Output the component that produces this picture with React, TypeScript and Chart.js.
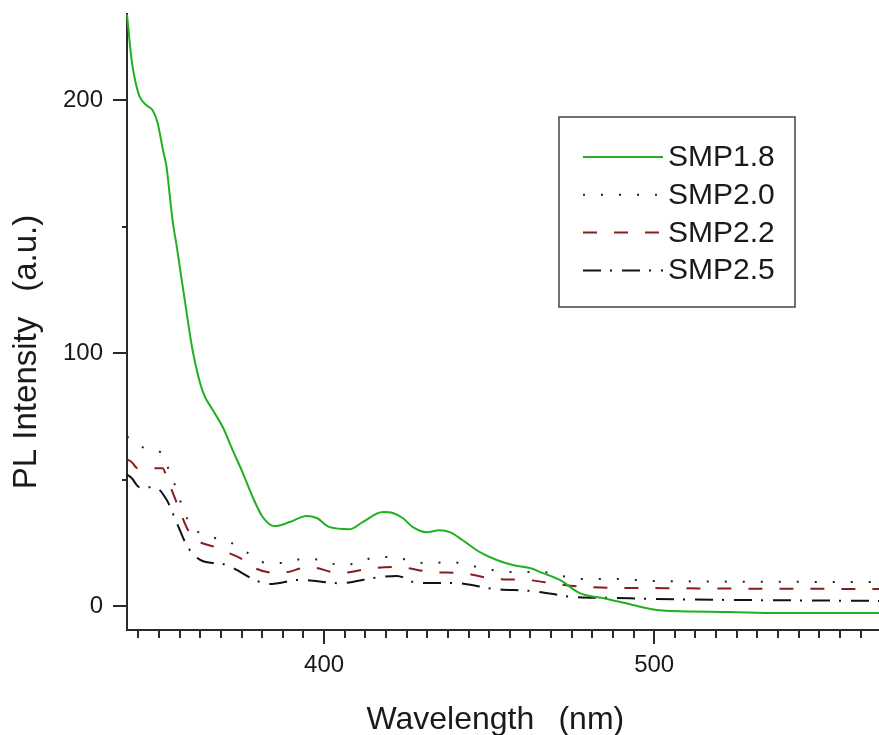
import React, { useEffect, useRef } from "react";
import { Chart, registerables } from "chart.js";

Chart.register(...registerables);

// ---- data ----
const smp18Wavelength = [340.3, 341.7, 342.6, 344.1, 346.3, 348.1, 349.6, 351.1, 352.3, 353.2, 354.1, 355.4, 356.3, 357.8, 360.2, 363.2, 366.3, 369.3, 372.3, 375.4, 378.4, 381.4, 385.0, 389.6, 394.7, 397.8, 401.7, 407.8, 411.7, 417.8, 420.8, 423.8, 426.9, 431.1, 435.0, 438.1, 442.0, 447.2, 452.3, 457.2, 462.3, 466.3, 471.4, 477.5, 485.7, 493.5, 500.8, 505.7, 522.9, 537.5, 568.1];
const smp18Intensity = [234, 216, 209, 201.6, 198, 196, 191, 181, 173.5, 163, 152.6, 142, 134, 121, 101, 85, 77.5, 70.8, 61.7, 52.6, 43, 35.2, 31.6, 33.2, 35.6, 34.8, 31.2, 30.4, 33.2, 37.2, 36.8, 34.8, 31.2, 29.2, 30, 29.2, 26, 21.3, 18.2, 16.2, 15, 13, 10.3, 5.1, 2.8, 0.4, -1.6, -2, -2.4, -2.8, -2.8];

const smp20Wavelength = [340.3, 345.7, 350.8, 353.2, 355.4, 357.2, 359.9, 366.0, 371.4, 376.9, 382.6, 388.1, 393.5, 399.3, 404.7, 410.2, 415.9, 421.4, 426.9, 432.6, 438.7, 443.5, 449.6, 455.4, 466.3, 472.0, 477.5, 488.7, 499.6, 568.1];
const smp20Intensity = [67, 62.5, 60.5, 53, 45.8, 38.7, 31.6, 27.3, 25.3, 21, 17, 17, 18.6, 18.2, 16.2, 17, 19.4, 19.4, 17.4, 17, 17.4, 16.2, 14.6, 13.4, 13.4, 11.9, 10.7, 10.7, 9.9, 9.5];

const smp22Wavelength = [340.3, 341.7, 343.5, 351.1, 352.3, 355.4, 359.3, 367.5, 376.6, 378.4, 386.6, 395.7, 404.7, 414.7, 422.0, 432.9, 442.0, 451.7, 461.4, 470.5, 479.9, 498.1, 568.1];
const smp22Intensity = [58, 57, 54.5, 54.5, 51, 40.7, 28.9, 23, 17.4, 15.4, 13, 15.4, 13, 15, 15.4, 13.4, 13, 10.7, 10.3, 8.7, 7.5, 7.1, 6.7];

const smp25Wavelength = [340.3, 341.7, 344.1, 348.7, 352.3, 355.4, 358.7, 363.2, 369.3, 380.5, 383.5, 392.6, 404.7, 414.7, 422.0, 428.4, 439.6, 451.7, 463.2, 475.4, 487.5, 498.7, 568.1];
const smp25Intensity = [52, 50.6, 47, 47, 42, 32.8, 23.3, 17.8, 16.6, 9.5, 8.7, 10.3, 9, 11, 11.9, 9.1, 9.1, 6.7, 5.9, 3.6, 3.2, 2.8, 2];

const seriesLabels = ["SMP1.8", "SMP2.0", "SMP2.2", "SMP2.5"];
const xTickValues = [400, 500];
const xMinorStep = 6.25;
const yTickValues = [0, 100, 200];
const yMinorValues = [50, 150];

const X_MIN = 340.3;
const X_MAX = 568.1;
const Y_MIN = -9.5;
const Y_MAX = 234.6;

const FONT = "'Liberation Sans', Arial, Helvetica, sans-serif";
const AXIS_COLOR = "#2a2a2a";
const TEXT_COLOR = "#1a1a1a";

const pts = (xs: number[], ys: number[]) => xs.map((x, i) => ({ x, y: ys[i] }));

const framePlugin = {
  id: "frame",
  beforeDatasetsDraw(chart: any) {
    const { ctx, chartArea: a, scales } = chart;
    const x = scales.x;
    const y = scales.y;
    ctx.save();
    ctx.strokeStyle = AXIS_COLOR;
    ctx.lineWidth = 2;
    ctx.beginPath();
    ctx.moveTo(a.left, a.top);
    ctx.lineTo(a.left, a.bottom);
    ctx.lineTo(a.right, a.bottom);
    ctx.stroke();
    ctx.beginPath();
    yTickValues.forEach((v) => {
      const py = Math.round(y.getPixelForValue(v));
      ctx.moveTo(a.left - 14, py);
      ctx.lineTo(a.left, py);
    });
    yMinorValues.forEach((v) => {
      const py = Math.round(y.getPixelForValue(v));
      ctx.moveTo(a.left - 5, py);
      ctx.lineTo(a.left, py);
    });
    for (let v = Math.ceil(x.min / xMinorStep) * xMinorStep; v <= x.max; v += xMinorStep) {
      const major = xTickValues.some((t) => Math.abs(t - v) < 1e-6);
      const px = Math.round(x.getPixelForValue(v));
      ctx.moveTo(px, a.bottom);
      ctx.lineTo(px, a.bottom + (major ? 14 : 8));
    }
    ctx.stroke();
    ctx.restore();
  },
};

const yTitlePlugin = {
  id: "yTitle",
  afterDraw(chart: any) {
    const { ctx } = chart;
    ctx.save();
    ctx.translate(27, 352);
    ctx.rotate(-Math.PI / 2);
    ctx.font = `33px ${FONT}`;
    ctx.fillStyle = TEXT_COLOR;
    ctx.textAlign = "center";
    ctx.textBaseline = "middle";
    ctx.fillText("PL Intensity  \u2009(a.u.)", 0, 0);
    ctx.restore();
  },
};

const legendPlugin = {
  id: "boxLegend",
  afterDraw(chart: any) {
    const { ctx } = chart;
    const left = 559, top = 117, w = 236, h = 190;
    ctx.save();
    ctx.fillStyle = "#ffffff";
    ctx.fillRect(left, top, w, h);
    ctx.strokeStyle = "#444";
    ctx.lineWidth = 1.5;
    ctx.strokeRect(left, top, w, h);
    ctx.font = `30px ${FONT}`;
    ctx.textBaseline = "alphabetic";
    ctx.textAlign = "left";
    chart.data.datasets.forEach((ds: any, i: number) => {
      const base = 166 + i * 37.8;
      const ly = base - 9;
      ctx.strokeStyle = ds.borderColor;
      ctx.lineWidth = 2;
      ctx.setLineDash(ds.borderDash || []);
      ctx.beginPath();
      ctx.moveTo(583, ly);
      ctx.lineTo(663, ly);
      ctx.stroke();
      ctx.setLineDash([]);
      ctx.fillStyle = TEXT_COLOR;
      ctx.fillText(ds.label, 668, base);
    });
    ctx.restore();
  },
};

export default function App() {
  const ref = useRef<HTMLCanvasElement>(null);
  useEffect(() => {
    const canvas = ref.current;
    if (!canvas) return;
    const common = {
      pointRadius: 0,
      borderWidth: 2,
      cubicInterpolationMode: "monotone",
      fill: false,
      clip: { left: 3, top: 3, right: 0, bottom: 3 },
    };
    const chart = new Chart(canvas, {
      type: "line",
      data: {
        datasets: [
          { ...common, label: seriesLabels[0], data: pts(smp18Wavelength, smp18Intensity), borderColor: "#22b022", borderDash: [] },
          { ...common, label: seriesLabels[1], data: pts(smp20Wavelength, smp20Intensity), borderColor: "#222222", borderDash: [2, 16] },
          { ...common, label: seriesLabels[2], data: pts(smp22Wavelength, smp22Intensity), borderColor: "#8b1c1c", borderDash: [14, 17] },
          { ...common, label: seriesLabels[3], data: pts(smp25Wavelength, smp25Intensity), borderColor: "#111111", borderDash: [18, 9, 2, 10] },
        ] as any,
      },
      options: {
        animation: false,
        responsive: false,
        devicePixelRatio: 1,
        layout: { padding: { top: 13, left: 0, right: 0, bottom: 0 } },
        plugins: { legend: { display: false }, tooltip: { enabled: false } },
        scales: {
          x: {
            type: "linear",
            min: X_MIN,
            max: X_MAX,
            grid: { display: false, drawTicks: false, tickLength: 0 },
            border: { display: false },
            afterBuildTicks: (s: any) => {
              s.ticks = xTickValues.map((v) => ({ value: v }));
            },
            afterFit: (s: any) => {
              s.height = 105;
              s.paddingLeft = 0;
              s.paddingRight = 0;
            },
            ticks: {
              padding: 21,
              maxRotation: 0,
              autoSkip: false,
              color: TEXT_COLOR,
              font: { family: FONT, size: 24 },
              callback: (v: any) => String(v),
            },
            title: {
              display: true,
              text: "Wavelength  \u2009(nm) \u2009",
              color: TEXT_COLOR,
              font: { family: FONT, size: 32, lineHeight: 0.9 },
              padding: { top: 0, bottom: 0 },
            },
          },
          y: {
            type: "linear",
            min: Y_MIN,
            max: Y_MAX,
            grid: { display: false, drawTicks: false, tickLength: 0 },
            border: { display: false },
            afterBuildTicks: (s: any) => {
              s.ticks = yTickValues.map((v) => ({ value: v }));
            },
            afterFit: (s: any) => {
              s.width = 127;
              s.paddingTop = 0;
              s.paddingBottom = 0;
            },
            ticks: {
              padding: 24,
              autoSkip: false,
              color: TEXT_COLOR,
              font: { family: FONT, size: 24 },
              callback: (v: any) => String(v),
            },
          },
        },
      } as any,
      plugins: [framePlugin, yTitlePlugin, legendPlugin],
    });
    return () => chart.destroy();
  }, []);

  return (
    <div style={{ position: "absolute", left: 0, top: 0, width: 879, height: 735, background: "#fff" }}>
      <canvas ref={ref} width={879} height={735} style={{ display: "block" }} />
    </div>
  );
}
